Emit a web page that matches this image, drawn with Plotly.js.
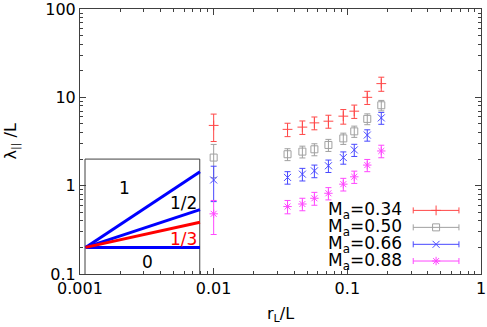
<!DOCTYPE html>
<html>
<head>
<meta charset="utf-8">
<script src="https://cdn.plot.ly/plotly-3.0.1.min.js"></script>
<style>
  html, body { margin: 0; padding: 0; background: #fff; }
  #plot { width: 487px; height: 327px; }
</style>
</head>
<body>
<div id="plot"></div>
<script>
// r_L / L positions
const rL = [0.01, 0.0357, 0.0461, 0.0567, 0.0722, 0.0933, 0.1127, 0.141, 0.1795];

// lambda_par / L for each Alfven Mach number, with error bars
const ma034 = [4.81, 4.34, 4.6, 5.14, 5.37, 6.12, 6.97, 10.0, 14.3];
const ma034Err = [1.65, 0.75, 0.8, 0.85, 0.9, 1.15, 1.2, 1.7, 2.6];
const ma050 = [2.08, 2.27, 2.43, 2.58, 2.89, 3.43, 4.12, 5.7, 8.13];
const ma050Err = [0.85, 0.35, 0.37, 0.4, 0.45, 0.5, 0.6, 0.8, 1.1];
const ma066 = [1.16, 1.24, 1.35, 1.47, 1.68, 2.08, 2.54, 3.74, 5.85];
const ma066Err = [0.5, 0.2, 0.22, 0.24, 0.27, 0.33, 0.4, 0.55, 0.9];
const ma088 = [0.48, 0.58, 0.62, 0.72, 0.82, 1.04, 1.26, 1.71, 2.47];
const ma088Err = [0.2, 0.1, 0.1, 0.12, 0.13, 0.17, 0.2, 0.27, 0.4];

const seriesNames = ["0.34", "0.50", "0.66", "0.88"];

// inset: slope guide lines
const insetX = [0.0011, 0.0079];
const slope1 = [0.2, 1.436];
const slopeHalf = [0.2, 0.536];
const slopeThird = [0.2, 0.386];
const slopeZero = [0.2, 0.2];
const insetBoxX = [0.00109, 0.00109, 0.00787, 0.00787];
const insetBoxY = [0.1, 2.0, 2.0, 0.1];
const slopeLabels = ["1", "1/2", "1/3", "0"];
const slopeLabelX = [0.00217, 0.0059, 0.0059, 0.0032];
const slopeLabelY = [0.95, 0.63, 0.25, 0.136];

const colors = ["#ff4848", "#a0a0a0", "#4848ff", "#ff48ff"];
const symbols = ["cross-thin-open", "square-open", "x-thin-open", "asterisk-open"];
const values = [ma034, ma050, ma066, ma088];
const errs = [ma034Err, ma050Err, ma066Err, ma088Err];

const FONT = "DejaVu Sans, sans-serif";
const traces = [];

values.forEach((v, i) => {
  traces.push({
    x: rL, y: v, type: "scatter", mode: "markers",
    marker: { symbol: symbols[i], size: 7, color: colors[i], line: { width: 1, color: colors[i] } },
    error_y: { type: "data", array: errs[i], visible: true, color: colors[i], thickness: 1, width: 3 },
    showlegend: false, hoverinfo: "skip"
  });
});

// inset box and guide lines
traces.push({ x: insetBoxX, y: insetBoxY, mode: "lines", line: { color: "#404040", width: 1 }, showlegend: false });
[slope1, slopeHalf, slopeZero].forEach(s => {
  traces.push({ x: insetX, y: s, mode: "lines", line: { color: "#0000ff", width: 3 }, showlegend: false });
});
traces.push({ x: insetX, y: slopeThird, mode: "lines", line: { color: "#ff0000", width: 3 }, showlegend: false });

// hand-made gnuplot style key on an overlay axis
const keyRows = [0.24, 0.176, 0.112, 0.049];
seriesNames.forEach((n, i) => {
  traces.push({
    x: [0.888], y: [keyRows[i]], xaxis: "x2", yaxis: "y2", mode: "markers",
    marker: { symbol: symbols[i], size: 7, color: colors[i], line: { width: 1, color: colors[i] } },
    error_x: { type: "data", array: [0.057], visible: true, color: colors[i], thickness: 1, width: 3 },
    showlegend: false, hoverinfo: "skip"
  });
});

const annotations = [];
seriesNames.forEach((n, i) => {
  annotations.push({
    xref: "paper", yref: "paper", x: 0.807, y: keyRows[i], xanchor: "right", yanchor: "middle",
    text: "M<sub>a</sub>=" + n, showarrow: false, font: { family: FONT, size: 17, color: "#000" }
  });
});
slopeLabels.forEach((t, i) => {
  annotations.push({
    x: Math.log10(slopeLabelX[i]), y: Math.log10(slopeLabelY[i]), text: t, showarrow: false,
    font: { family: FONT, size: 17, color: t === "1/3" ? "#ff0000" : "#000" }
  });
});
// y axis title, placed by hand like gnuplot does
annotations.push({
  xref: "paper", yref: "paper", x: -0.172, y: 0.5, xanchor: "center", yanchor: "middle",
  textangle: -90, text: "λ<sub>||</sub> /L", showarrow: false,
  font: { family: FONT, size: 16, color: "#000" }
});

const axisCommon = {
  type: "log", showline: true, linecolor: "#404040", linewidth: 1, mirror: "ticks",
  ticks: "inside", ticklen: 6, tickcolor: "#404040", showgrid: false, zeroline: false,
  ticklabeloverflow: "allow",
  tickfont: { family: FONT, size: 16, color: "#000" },
  minor: { ticks: "inside", ticklen: 3, tickcolor: "#404040", dtick: "D1", showgrid: false }
};

const layout = {
  width: 487, height: 327,
  margin: { l: 80, r: 6, t: 9, b: 53 },
  paper_bgcolor: "#fff", plot_bgcolor: "#fff",
  font: { family: FONT, color: "#000" },
  showlegend: false,
  xaxis: Object.assign({}, axisCommon, {
    range: [-3, 0], tickmode: "array",
    tickvals: [0.001, 0.01, 0.1, 1], ticktext: ["0.001", "0.01", "0.1", "1"],
    title: { text: "r<sub>L</sub>/L", font: { family: FONT, size: 16 }, standoff: 10 }
  }),
  yaxis: Object.assign({}, axisCommon, {
    range: [-1, 2], tickmode: "array",
    tickvals: [0.1, 1, 10, 100], ticktext: ["0.1", "1", "10", "100"]
  }),
  xaxis2: { overlaying: "x", range: [0, 1], visible: false },
  yaxis2: { overlaying: "y", range: [0, 1], visible: false },
  annotations: annotations
};

Plotly.newPlot("plot", traces, layout, { staticPlot: true });
</script>
</body>
</html>
